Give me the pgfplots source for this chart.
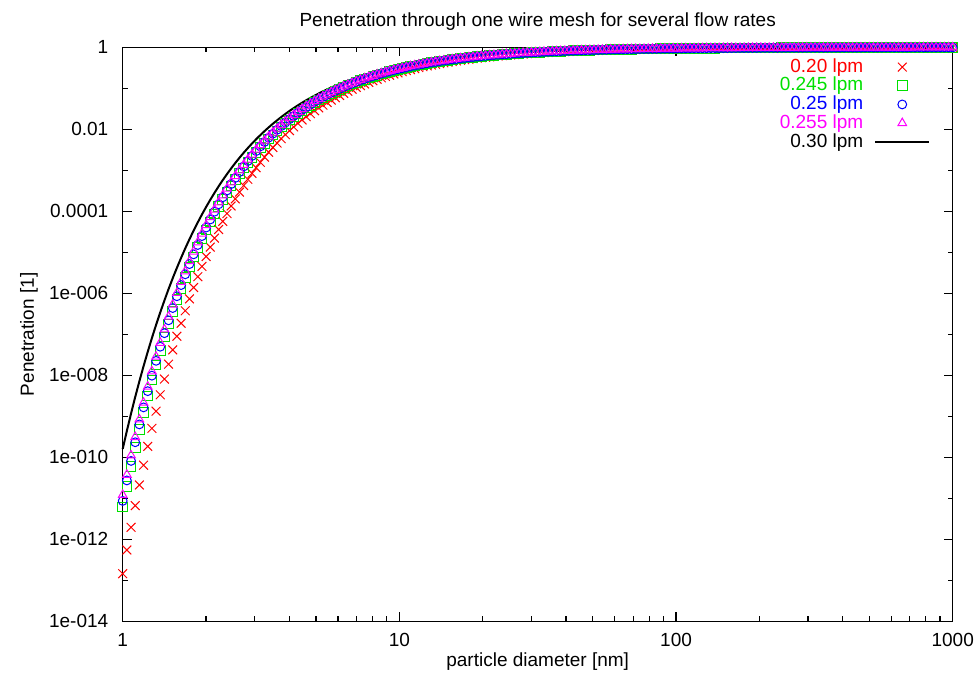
\documentclass[border=0pt]{standalone}
\usepackage{fontspec}
\setmainfont{Liberation Sans}
\usepackage{pgfplots}
\usepackage{pgfplotstable}
\pgfplotsset{compat=1.18}
\definecolor{gred}{HTML}{FF0000}
\definecolor{ggreen}{HTML}{00E000}
\definecolor{gblue}{HTML}{0000FF}
\definecolor{gmag}{HTML}{FF00FF}

% t = log10(diameter/nm); columns = log10(penetration) for 0.20, 0.245, 0.25, 0.255, 0.30 lpm
\pgfplotstableread{
t r g b m k
0 -12.839 -11.214 -11.064 -10.918 -9.797
0.0151 -12.260 -10.708 -10.564 -10.426 -9.355
0.0302 -11.707 -10.225 -10.088 -9.955 -8.933
0.0452 -11.178 -9.764 -9.633 -9.506 -8.530
0.0603 -10.674 -9.323 -9.198 -9.077 -8.145
0.0754 -10.192 -8.902 -8.783 -8.668 -7.777
0.0905 -9.733 -8.501 -8.387 -8.277 -7.427
0.1055 -9.294 -8.118 -8.009 -7.903 -7.092
0.1206 -8.875 -7.751 -7.647 -7.547 -6.772
0.1357 -8.475 -7.402 -7.303 -7.207 -6.466
0.1508 -8.092 -7.068 -6.973 -6.882 -6.175
0.1658 -7.728 -6.750 -6.659 -6.571 -5.896
0.1809 -7.379 -6.445 -6.359 -6.275 -5.631
0.1960 -7.047 -6.155 -6.072 -5.992 -5.377
0.2111 -6.729 -5.877 -5.799 -5.722 -5.135
0.2261 -6.426 -5.613 -5.537 -5.464 -4.903
0.2412 -6.136 -5.360 -5.288 -5.218 -4.682
0.2563 -5.860 -5.118 -5.050 -4.983 -4.471
0.2714 -5.596 -4.888 -4.822 -4.759 -4.270
0.2864 -5.344 -4.668 -4.605 -4.544 -4.078
0.3015 -5.103 -4.457 -4.397 -4.340 -3.894
0.3166 -4.874 -4.257 -4.200 -4.144 -3.719
0.3317 -4.654 -4.065 -4.011 -3.958 -3.551
0.3467 -4.445 -3.882 -3.830 -3.780 -3.392
0.3618 -4.245 -3.707 -3.658 -3.610 -3.239
0.3769 -4.054 -3.541 -3.493 -3.447 -3.093
0.3920 -3.871 -3.381 -3.336 -3.292 -2.954
0.4070 -3.697 -3.229 -3.186 -3.144 -2.821
0.4221 -3.531 -3.084 -3.043 -3.003 -2.694
0.4372 -3.372 -2.945 -2.906 -2.868 -2.573
0.4523 -3.221 -2.813 -2.775 -2.739 -2.457
0.4673 -3.076 -2.687 -2.651 -2.616 -2.347
0.4824 -2.938 -2.566 -2.532 -2.498 -2.242
0.4975 -2.806 -2.451 -2.418 -2.386 -2.141
0.5126 -2.680 -2.341 -2.309 -2.279 -2.045
0.5276 -2.559 -2.235 -2.205 -2.177 -1.953
0.5427 -2.445 -2.135 -2.107 -2.079 -1.865
0.5578 -2.335 -2.039 -2.012 -1.986 -1.782
0.5729 -2.230 -1.948 -1.922 -1.896 -1.702
0.5879 -2.130 -1.861 -1.836 -1.811 -1.625
0.6030 -2.034 -1.777 -1.753 -1.730 -1.552
0.6181 -1.943 -1.697 -1.675 -1.653 -1.483
0.6332 -1.856 -1.621 -1.600 -1.579 -1.416
0.6482 -1.773 -1.549 -1.528 -1.508 -1.353
0.6633 -1.694 -1.479 -1.460 -1.440 -1.292
0.6784 -1.618 -1.413 -1.394 -1.376 -1.235
0.6935 -1.546 -1.350 -1.332 -1.314 -1.179
0.7085 -1.476 -1.290 -1.272 -1.256 -1.127
0.7236 -1.410 -1.232 -1.215 -1.199 -1.076
0.7387 -1.347 -1.177 -1.161 -1.146 -1.028
0.7538 -1.287 -1.124 -1.109 -1.095 -0.982
0.7688 -1.230 -1.074 -1.060 -1.046 -0.938
0.7839 -1.175 -1.026 -1.012 -0.999 -0.896
0.7990 -1.122 -0.980 -0.967 -0.954 -0.856
0.8141 -1.072 -0.937 -0.924 -0.912 -0.818
0.8291 -1.024 -0.895 -0.883 -0.871 -0.782
0.8442 -0.979 -0.855 -0.844 -0.832 -0.747
0.8593 -0.935 -0.817 -0.806 -0.795 -0.714
0.8744 -0.894 -0.781 -0.770 -0.760 -0.682
0.8894 -0.854 -0.746 -0.736 -0.726 -0.652
0.9045 -0.816 -0.713 -0.703 -0.694 -0.623
0.9196 -0.780 -0.681 -0.672 -0.663 -0.595
0.9347 -0.745 -0.651 -0.642 -0.634 -0.569
0.9497 -0.712 -0.622 -0.614 -0.606 -0.543
0.9648 -0.680 -0.594 -0.586 -0.579 -0.519
0.9799 -0.650 -0.568 -0.560 -0.553 -0.496
0.9950 -0.622 -0.543 -0.536 -0.529 -0.474
1.0101 -0.594 -0.519 -0.512 -0.505 -0.453
1.0251 -0.568 -0.496 -0.489 -0.483 -0.433
1.0402 -0.543 -0.474 -0.468 -0.461 -0.414
1.0553 -0.519 -0.453 -0.447 -0.441 -0.396
1.0704 -0.496 -0.433 -0.427 -0.422 -0.378
1.0854 -0.474 -0.414 -0.408 -0.403 -0.362
1.1005 -0.453 -0.396 -0.390 -0.385 -0.346
1.1156 -0.433 -0.378 -0.373 -0.368 -0.331
1.1307 -0.414 -0.362 -0.357 -0.352 -0.316
1.1457 -0.396 -0.346 -0.341 -0.337 -0.302
1.1608 -0.379 -0.331 -0.326 -0.322 -0.289
1.1759 -0.362 -0.316 -0.312 -0.308 -0.276
1.1910 -0.346 -0.302 -0.298 -0.294 -0.264
1.2060 -0.331 -0.289 -0.285 -0.281 -0.253
1.2211 -0.317 -0.276 -0.273 -0.269 -0.242
1.2362 -0.303 -0.264 -0.261 -0.257 -0.231
1.2513 -0.290 -0.253 -0.250 -0.246 -0.221
1.2663 -0.277 -0.242 -0.239 -0.236 -0.211
1.2814 -0.265 -0.231 -0.228 -0.225 -0.202
1.2965 -0.253 -0.221 -0.218 -0.215 -0.193
1.3116 -0.242 -0.212 -0.209 -0.206 -0.185
1.3266 -0.232 -0.203 -0.200 -0.197 -0.177
1.3417 -0.222 -0.194 -0.191 -0.189 -0.169
1.3568 -0.212 -0.185 -0.183 -0.181 -0.162
1.3719 -0.203 -0.177 -0.175 -0.173 -0.155
1.3869 -0.194 -0.170 -0.168 -0.165 -0.148
1.4020 -0.186 -0.163 -0.160 -0.158 -0.142
1.4171 -0.178 -0.156 -0.153 -0.151 -0.136
1.4322 -0.170 -0.149 -0.147 -0.145 -0.130
1.4472 -0.163 -0.143 -0.141 -0.139 -0.125
1.4623 -0.156 -0.136 -0.135 -0.133 -0.119
1.4774 -0.150 -0.131 -0.129 -0.127 -0.114
1.4925 -0.143 -0.125 -0.123 -0.122 -0.109
1.5075 -0.137 -0.120 -0.118 -0.117 -0.105
1.5226 -0.131 -0.115 -0.113 -0.112 -0.100
1.5377 -0.126 -0.110 -0.108 -0.107 -0.096
1.5528 -0.120 -0.105 -0.104 -0.102 -0.092
1.5678 -0.115 -0.101 -0.099 -0.098 -0.088
1.5829 -0.110 -0.097 -0.095 -0.094 -0.084
1.5980 -0.106 -0.092 -0.091 -0.090 -0.081
1.6131 -0.101 -0.089 -0.087 -0.086 -0.077
1.6281 -0.097 -0.085 -0.084 -0.083 -0.074
1.6432 -0.093 -0.081 -0.080 -0.079 -0.071
1.6583 -0.089 -0.078 -0.077 -0.076 -0.068
1.6734 -0.086 -0.075 -0.074 -0.073 -0.065
1.6884 -0.082 -0.072 -0.071 -0.070 -0.063
1.7035 -0.079 -0.069 -0.068 -0.067 -0.060
1.7186 -0.076 -0.066 -0.065 -0.064 -0.058
1.7337 -0.072 -0.063 -0.062 -0.062 -0.055
1.7487 -0.069 -0.061 -0.060 -0.059 -0.053
1.7638 -0.067 -0.058 -0.057 -0.057 -0.051
1.7789 -0.064 -0.056 -0.055 -0.054 -0.049
1.7940 -0.061 -0.054 -0.053 -0.052 -0.047
1.8090 -0.059 -0.051 -0.051 -0.050 -0.045
1.8241 -0.057 -0.049 -0.049 -0.048 -0.043
1.8392 -0.054 -0.047 -0.047 -0.046 -0.041
1.8543 -0.052 -0.046 -0.045 -0.044 -0.040
1.8693 -0.050 -0.044 -0.043 -0.043 -0.038
1.8844 -0.048 -0.042 -0.041 -0.041 -0.037
1.8995 -0.046 -0.040 -0.040 -0.039 -0.035
1.9146 -0.044 -0.039 -0.038 -0.038 -0.034
1.9296 -0.043 -0.037 -0.037 -0.036 -0.033
1.9447 -0.041 -0.036 -0.035 -0.035 -0.031
1.9598 -0.039 -0.034 -0.034 -0.033 -0.030
1.9749 -0.038 -0.033 -0.033 -0.032 -0.029
1.9899 -0.036 -0.032 -0.031 -0.031 -0.028
2.0050 -0.035 -0.031 -0.030 -0.030 -0.027
2.0201 -0.034 -0.029 -0.029 -0.029 -0.026
2.0352 -0.032 -0.028 -0.028 -0.028 -0.025
2.0503 -0.031 -0.027 -0.027 -0.027 -0.024
2.0653 -0.030 -0.026 -0.026 -0.026 -0.023
2.0804 -0.029 -0.025 -0.025 -0.025 -0.022
2.0955 -0.028 -0.024 -0.024 -0.024 -0.021
2.1106 -0.027 -0.023 -0.023 -0.023 -0.020
2.1256 -0.026 -0.023 -0.022 -0.022 -0.020
2.1407 -0.025 -0.022 -0.021 -0.021 -0.019
2.1558 -0.024 -0.021 -0.021 -0.020 -0.018
2.1709 -0.023 -0.020 -0.020 -0.020 -0.018
2.1859 -0.022 -0.019 -0.019 -0.019 -0.017
2.2010 -0.021 -0.019 -0.018 -0.018 -0.016
2.2161 -0.021 -0.018 -0.018 -0.018 -0.016
2.2312 -0.020 -0.017 -0.017 -0.017 -0.015
2.2462 -0.019 -0.017 -0.017 -0.016 -0.015
2.2613 -0.019 -0.016 -0.016 -0.016 -0.014
2.2764 -0.018 -0.016 -0.015 -0.015 -0.014
2.2915 -0.017 -0.015 -0.015 -0.015 -0.013
2.3065 -0.017 -0.015 -0.014 -0.014 -0.013
2.3216 -0.016 -0.014 -0.014 -0.014 -0.012
2.3367 -0.016 -0.014 -0.013 -0.013 -0.012
2.3518 -0.015 -0.013 -0.013 -0.013 -0.011
2.3668 -0.015 -0.013 -0.013 -0.012 -0.011
2.3819 -0.014 -0.012 -0.012 -0.012 -0.011
2.3970 -0.014 -0.012 -0.012 -0.012 -0.010
2.4121 -0.013 -0.011 -0.011 -0.011 -0.010
2.4271 -0.013 -0.011 -0.011 -0.011 -0.010
2.4422 -0.012 -0.011 -0.011 -0.010 -0.009
2.4573 -0.012 -0.010 -0.010 -0.010 -0.009
2.4724 -0.011 -0.010 -0.010 -0.010 -0.009
2.4874 -0.011 -0.010 -0.010 -0.009 -0.008
2.5025 -0.011 -0.009 -0.009 -0.009 -0.008
2.5176 -0.010 -0.009 -0.009 -0.009 -0.008
2.5327 -0.010 -0.009 -0.009 -0.009 -0.008
2.5477 -0.010 -0.009 -0.008 -0.008 -0.007
2.5628 -0.009 -0.008 -0.008 -0.008 -0.007
2.5779 -0.009 -0.008 -0.008 -0.008 -0.007
2.5930 -0.009 -0.008 -0.008 -0.008 -0.007
2.6080 -0.009 -0.008 -0.007 -0.007 -0.007
2.6231 -0.008 -0.007 -0.007 -0.007 -0.006
2.6382 -0.008 -0.007 -0.007 -0.007 -0.006
2.6533 -0.008 -0.007 -0.007 -0.007 -0.006
2.6683 -0.008 -0.007 -0.007 -0.006 -0.006
2.6834 -0.007 -0.006 -0.006 -0.006 -0.006
2.6985 -0.007 -0.006 -0.006 -0.006 -0.005
2.7136 -0.007 -0.006 -0.006 -0.006 -0.005
2.7286 -0.007 -0.006 -0.006 -0.006 -0.005
2.7437 -0.007 -0.006 -0.006 -0.006 -0.005
2.7588 -0.006 -0.006 -0.005 -0.005 -0.005
2.7739 -0.006 -0.005 -0.005 -0.005 -0.005
2.7889 -0.006 -0.005 -0.005 -0.005 -0.005
2.8040 -0.006 -0.005 -0.005 -0.005 -0.004
2.8191 -0.006 -0.005 -0.005 -0.005 -0.004
2.8342 -0.005 -0.005 -0.005 -0.005 -0.004
2.8492 -0.005 -0.005 -0.005 -0.005 -0.004
2.8643 -0.005 -0.005 -0.004 -0.004 -0.004
2.8794 -0.005 -0.004 -0.004 -0.004 -0.004
2.8945 -0.005 -0.004 -0.004 -0.004 -0.004
2.9095 -0.005 -0.004 -0.004 -0.004 -0.004
2.9246 -0.005 -0.004 -0.004 -0.004 -0.004
2.9397 -0.004 -0.004 -0.004 -0.004 -0.003
2.9548 -0.004 -0.004 -0.004 -0.004 -0.003
2.9698 -0.004 -0.004 -0.004 -0.004 -0.003
2.9849 -0.004 -0.004 -0.004 -0.004 -0.003
3.0000 -0.004 -0.004 -0.003 -0.003 -0.003
}\pen

\begin{document}
\begin{tikzpicture}
\begin{axis}[
  scale only axis, width=415pt, height=287pt,
  xmin=0, xmax=3, ymin=-14, ymax=0,
  clip=false,
  font=\fontsize{9.5pt}{11pt}\selectfont,
  xtick={0,1,2,3}, xticklabels={1,10,100,1000},
  minor xtick={0.30103,0.47712,0.60206,0.69897,0.77815,0.84510,0.90309,0.95424,
    1.30103,1.47712,1.60206,1.69897,1.77815,1.84510,1.90309,1.95424,
    2.30103,2.47712,2.60206,2.69897,2.77815,2.84510,2.90309,2.95424},
  ytick={-14,-12,-10,-8,-6,-4,-2,0},
  yticklabels={1e-014,1e-012,1e-010,1e-008,1e-006,0.0001,0.01,1},
  minor ytick={-13,-11,-9,-7,-5,-3,-1},
  tick align=inside, major tick length=4.5pt, minor tick length=2.5pt,
  axis line style={line width=0.7pt, black},
  every tick/.style={line width=0.6pt, black},
  xticklabel style={anchor=base, yshift=-12.5pt},
  yticklabel style={anchor=east, xshift=-3.7pt},
  title={Penetration through one wire mesh for several flow rates},
  title style={at={(axis description cs:0.5,1.015)}, anchor=base},
  xlabel={particle diameter [nm]},
  xlabel style={at={(axis description cs:0.5,-0.0784)}, anchor=base},
  ylabel={Penetration [1]},
  ylabel style={at={(axis description cs:-0.113,0.5)}, anchor=center},
  legend style={at={(axis description cs:1,1)}, anchor=north east,
    xshift=-8pt, yshift=-3pt, draw=none, fill=none,
    font=\fontsize{9.5pt}{11pt}\selectfont, row sep=0pt, column sep=5.5pt,
    nodes={inner sep=0pt, text height=7.3pt, text depth=2.05pt}},
  legend cell align=right, legend plot pos=right,
  legend image code/.code={\draw[mark repeat=2,mark phase=2,#1]
    plot coordinates {(0cm,0cm) (0.475cm,0cm) (0.95cm,0cm)};},
]
\addplot[only marks, mark=x, mark size=3.1pt, gred, line width=0.5pt] table[x=t,y=r] {\pen};
\addlegendentry{\textcolor{gred}{0.20 lpm}}
\addplot[only marks, mark=square, mark size=2.4pt, ggreen, line width=0.5pt] table[x=t,y=g] {\pen};
\addlegendentry{\textcolor{ggreen}{0.245 lpm}}
\addplot[only marks, mark=o, mark size=2.2pt, gblue, line width=0.5pt] table[x=t,y=b] {\pen};
\addlegendentry{\textcolor{gblue}{0.25 lpm}}
\addplot[only marks, mark=triangle, mark size=2.5pt, gmag, line width=0.5pt] table[x=t,y=m] {\pen};
\addlegendentry{\textcolor{gmag}{0.255 lpm}}
\addplot[no marks, black, line width=1pt] table[x=t,y=k] {\pen};
\addlegendentry{0.30 lpm}
\end{axis}
\pgfresetboundingbox
\path ([shift={(-61.35pt,-29.5pt)}]current axis.south west)
  rectangle ([shift={(10.65pt,23.65pt)}]current axis.north east);
\end{tikzpicture}
\end{document}
